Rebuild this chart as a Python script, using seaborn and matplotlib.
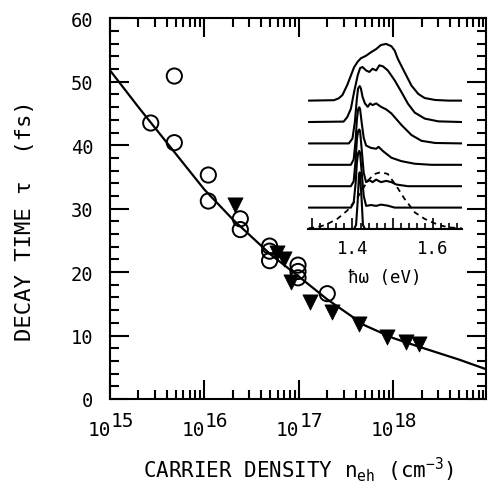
import numpy as np
import pandas as pd
import matplotlib
matplotlib.use("Agg")
import matplotlib.pyplot as plt
from matplotlib.ticker import MultipleLocator, FixedLocator, NullFormatter, LogLocator
import seaborn as sns

# ---------------- data ----------------
circle_n = [2.7e15, 4.8e15, 4.8e15, 1.1e16, 1.1e16, 2.4e16, 2.4e16,
            4.9e16, 4.9e16, 4.9e16, 9.8e16, 9.8e16, 9.8e16, 2.0e17]
circle_tau = [43.5, 50.9, 40.4, 35.3, 31.2, 28.4, 26.7,
              24.1, 23.3, 21.8, 21.1, 20.1, 19.1, 16.6]

tri_n = [2.1e16, 5.9e16, 6.9e16, 8.3e16, 1.32e17, 2.24e17, 4.3e17,
         8.5e17, 1.38e18, 1.86e18]
tri_tau = [30.6, 23.0, 22.0, 18.4, 15.3, 13.7, 11.8, 9.7, 9.0, 8.7]

fit_n = [1e15, 2e15, 5e15, 1e16, 2e16, 5e16, 1e17, 2e17, 5e17,
         1e18, 2e18, 5e18, 9.6e18]
fit_tau = [51.8, 46.0, 38.6, 33.0, 28.3, 22.8, 19.3, 15.7, 11.6,
           9.6, 8.1, 6.2, 4.7]

x_ticks = [1e15, 1e16, 1e17, 1e18]
x_tick_exponents = ["15", "16", "17", "18"]
y_ticks = [0, 10, 20, 30, 40, 50, 60]

# inset spectra: photon energy (eV) and intensity above each trace's baseline
spec_offsets = [6, 5, 4, 3, 2, 1, 0]
spec_E = [
    [1.291, 1.354, 1.366, 1.375, 1.387, 1.396, 1.404, 1.413, 1.421, 1.434, 1.446,
     1.459, 1.471, 1.484, 1.497, 1.505, 1.513, 1.530, 1.547, 1.564, 1.580, 1.606,
     1.639, 1.672],
    [1.291, 1.378, 1.387, 1.396, 1.404, 1.413, 1.419, 1.425, 1.434, 1.442, 1.450,
     1.459, 1.467, 1.476, 1.488, 1.505, 1.522, 1.538, 1.555, 1.580, 1.614, 1.672],
    [1.291, 1.391, 1.400, 1.406, 1.411, 1.414, 1.418, 1.421, 1.425, 1.431, 1.438,
     1.444, 1.450, 1.459, 1.471, 1.484, 1.497, 1.522, 1.547, 1.572, 1.606, 1.672],
    [1.291, 1.396, 1.403, 1.408, 1.411, 1.414, 1.417, 1.419, 1.423, 1.428, 1.434,
     1.446, 1.459, 1.465, 1.476, 1.497, 1.522, 1.555, 1.597, 1.672],
    [1.291, 1.396, 1.403, 1.408, 1.411, 1.414, 1.417, 1.419, 1.423, 1.428, 1.434,
     1.442, 1.450, 1.459, 1.471, 1.484, 1.497, 1.509, 1.538, 1.672],
    [1.291, 1.396, 1.403, 1.408, 1.411, 1.414, 1.417, 1.419, 1.423, 1.428, 1.434,
     1.446, 1.459, 1.471, 1.488, 1.505, 1.672],
    [1.291, 1.404, 1.409, 1.413, 1.416, 1.418, 1.419, 1.423, 1.426, 1.431, 1.672],
]
spec_I = [
    [0.0, 0.02, 0.11, 0.26, 0.73, 1.17, 1.56, 1.82, 1.98, 2.10, 2.26,
     2.41, 2.60, 2.65, 2.54, 2.34, 1.95, 1.32, 0.70, 0.31, 0.12, 0.03,
     0.0, 0.0],
    [0.0, 0.02, 0.23, 0.62, 1.40, 2.18, 2.52, 2.57, 2.41, 2.34, 2.49,
     2.41, 2.65, 2.60, 2.41, 1.95, 1.40, 0.86, 0.44, 0.16, 0.03, 0.0],
    [0.0, 0.0, 0.23, 1.01, 2.10, 2.57, 2.68, 2.57, 2.18, 1.87, 1.71,
     1.87, 1.79, 1.87, 1.71, 1.59, 1.40, 0.86, 0.39, 0.12, 0.02, 0.0],
    [0.0, 0.0, 0.25, 1.18, 2.12, 2.59, 2.69, 2.59, 1.96, 1.26, 0.90,
     0.79, 0.75, 0.84, 0.64, 0.33, 0.17, 0.05, 0.0, 0.0],
    [0.0, 0.0, 0.23, 1.25, 2.18, 2.57, 2.65, 2.57, 1.71, 0.62, 0.19,
     0.28, 0.19, 0.31, 0.19, 0.25, 0.19, 0.08, 0.0, 0.0],
    [0.0, 0.0, 0.23, 1.17, 2.10, 2.54, 2.65, 2.54, 1.64, 0.55, 0.08,
     0.12, 0.08, 0.14, 0.09, 0.0, 0.0],
    [0.0, 0.0, 0.20, 1.30, 2.50, 2.65, 2.50, 1.30, 0.20, 0.0, 0.0],
]
laser_E = [1.291, 1.320, 1.337, 1.362, 1.387, 1.413, 1.438, 1.455, 1.471, 1.488,
           1.509, 1.530, 1.555, 1.580, 1.614, 1.639, 1.672]
laser_I = [0.03, 0.12, 0.23, 0.47, 0.86, 1.48, 2.26, 2.57, 2.66, 2.57,
           2.02, 1.40, 0.78, 0.47, 0.19, 0.08, 0.03]
inset_ticks = [1.3, 1.4, 1.5, 1.6]
inset_ticklabels = ["", "1.4", "", "1.6"]

# ---------------- style ----------------
sns.set_style("ticks")
MONO = "DejaVu Sans Mono"
plt.rcParams["font.family"] = [MONO, "DejaVu Sans"]
plt.rcParams["mathtext.fontset"] = "custom"
plt.rcParams["mathtext.rm"] = MONO
plt.rcParams["mathtext.it"] = MONO
plt.rcParams["mathtext.default"] = "rm"
for key in ["text.color", "axes.labelcolor", "xtick.color", "ytick.color"]:
    plt.rcParams[key] = "black"

fig = plt.figure(figsize=(4.89, 4.85), dpi=100)
ax = fig.add_axes([110 / 489, 1 - 400 / 485, 376 / 489, 380.7 / 485])

pts_c = pd.DataFrame({"n": circle_n, "tau": circle_tau})
pts_t = pd.DataFrame({"n": tri_n, "tau": tri_tau})
fit = pd.DataFrame({"n": fit_n, "tau": fit_tau})

ax.set_xscale("log")
sns.lineplot(data=fit, x="n", y="tau", ax=ax, color="black", lw=1.6,
             sort=False, estimator=None)
sns.scatterplot(data=pts_c, x="n", y="tau", ax=ax, marker="o", s=120,
                facecolor="none", edgecolor="black", linewidth=1.4, zorder=3)
sns.scatterplot(data=pts_t, x="n", y="tau", ax=ax, marker="v", s=120,
                color="black", edgecolor="black", linewidth=0.5, zorder=3)

ax.set_xlim(1e15, 9.6e18)
ax.set_ylim(0, 60)
ax.xaxis.set_major_locator(FixedLocator(x_ticks))
ax.xaxis.set_major_formatter(NullFormatter())
ax.xaxis.set_minor_locator(LogLocator(base=10, subs=np.arange(2, 10), numticks=20))
ax.xaxis.set_minor_formatter(NullFormatter())
ax.yaxis.set_major_locator(FixedLocator(y_ticks))
ax.yaxis.set_minor_locator(MultipleLocator(2))
ax.tick_params(which="both", direction="in", top=True, right=True,
               width=1.5, labelsize=13.5, color="black")
ax.tick_params(which="major", length=13.5, pad=12)
ax.tick_params(which="minor", length=6.5)
for s in ax.spines.values():
    s.set_linewidth(1.5)
    s.set_color("black")

# x tick labels "10" with full-size raised exponent
xt = ax.get_xaxis_transform()
for t, e in zip(x_ticks, x_tick_exponents):
    ax.annotate("10", xy=(t, 0), xycoords=xt, xytext=(0.5, -26),
                textcoords="offset points", ha="right", va="baseline",
                fontsize=14, annotation_clip=False)
    ax.annotate(e, xy=(t, 0), xycoords=xt, xytext=(0.3, -19.5),
                textcoords="offset points", ha="left", va="baseline",
                fontsize=14, annotation_clip=False)

ax.set_xlabel(r"CARRIER DENSITY n$_{eh}$ (cm$^{-3}$)", fontsize=15)
ax.xaxis.set_label_coords(0.5, -0.145)
ax.set_ylabel("DECAY TIME τ  (fs)", fontsize=16)
ax.yaxis.set_label_coords(-0.2, 0.47)

# ---------------- inset ----------------
axi = fig.add_axes([308.3 / 489, 1 - 230 / 485, 153.4 / 489, 190 / 485])
axi.patch.set_alpha(0)
for E, I, off in zip(spec_E, spec_I, spec_offsets):
    df = pd.DataFrame({"E": E, "I": np.asarray(I) + off})
    sns.lineplot(data=df, x="E", y="I", ax=axi, color="black", lw=1.5,
                 sort=False, estimator=None)
ldf = pd.DataFrame({"E": laser_E, "I": laser_I})
sns.lineplot(data=ldf, x="E", y="I", ax=axi, color="black", lw=1.3,
             sort=False, estimator=None, linestyle=(0, (3, 2.5)))
axi.set_xlim(1.29, 1.672)
axi.set_ylim(0, 8.88)
for side in ["top", "right", "left"]:
    axi.spines[side].set_visible(False)
axi.spines["bottom"].set_linewidth(1.5)
axi.spines["bottom"].set_color("black")
axi.set_yticks([])
axi.set_xticks(inset_ticks)
axi.set_xticklabels(inset_ticklabels)
axi.xaxis.set_minor_locator(MultipleLocator(0.02))
axi.tick_params(which="both", direction="in", width=1.2, labelsize=12.5, color="black")
axi.tick_params(which="major", length=8, pad=7)
axi.tick_params(which="minor", length=4.5)
axi.set_xlabel("ħω (eV)", fontsize=12.5, labelpad=8)
axi.set_ylabel("")

fig.savefig("out.png", dpi=100)
